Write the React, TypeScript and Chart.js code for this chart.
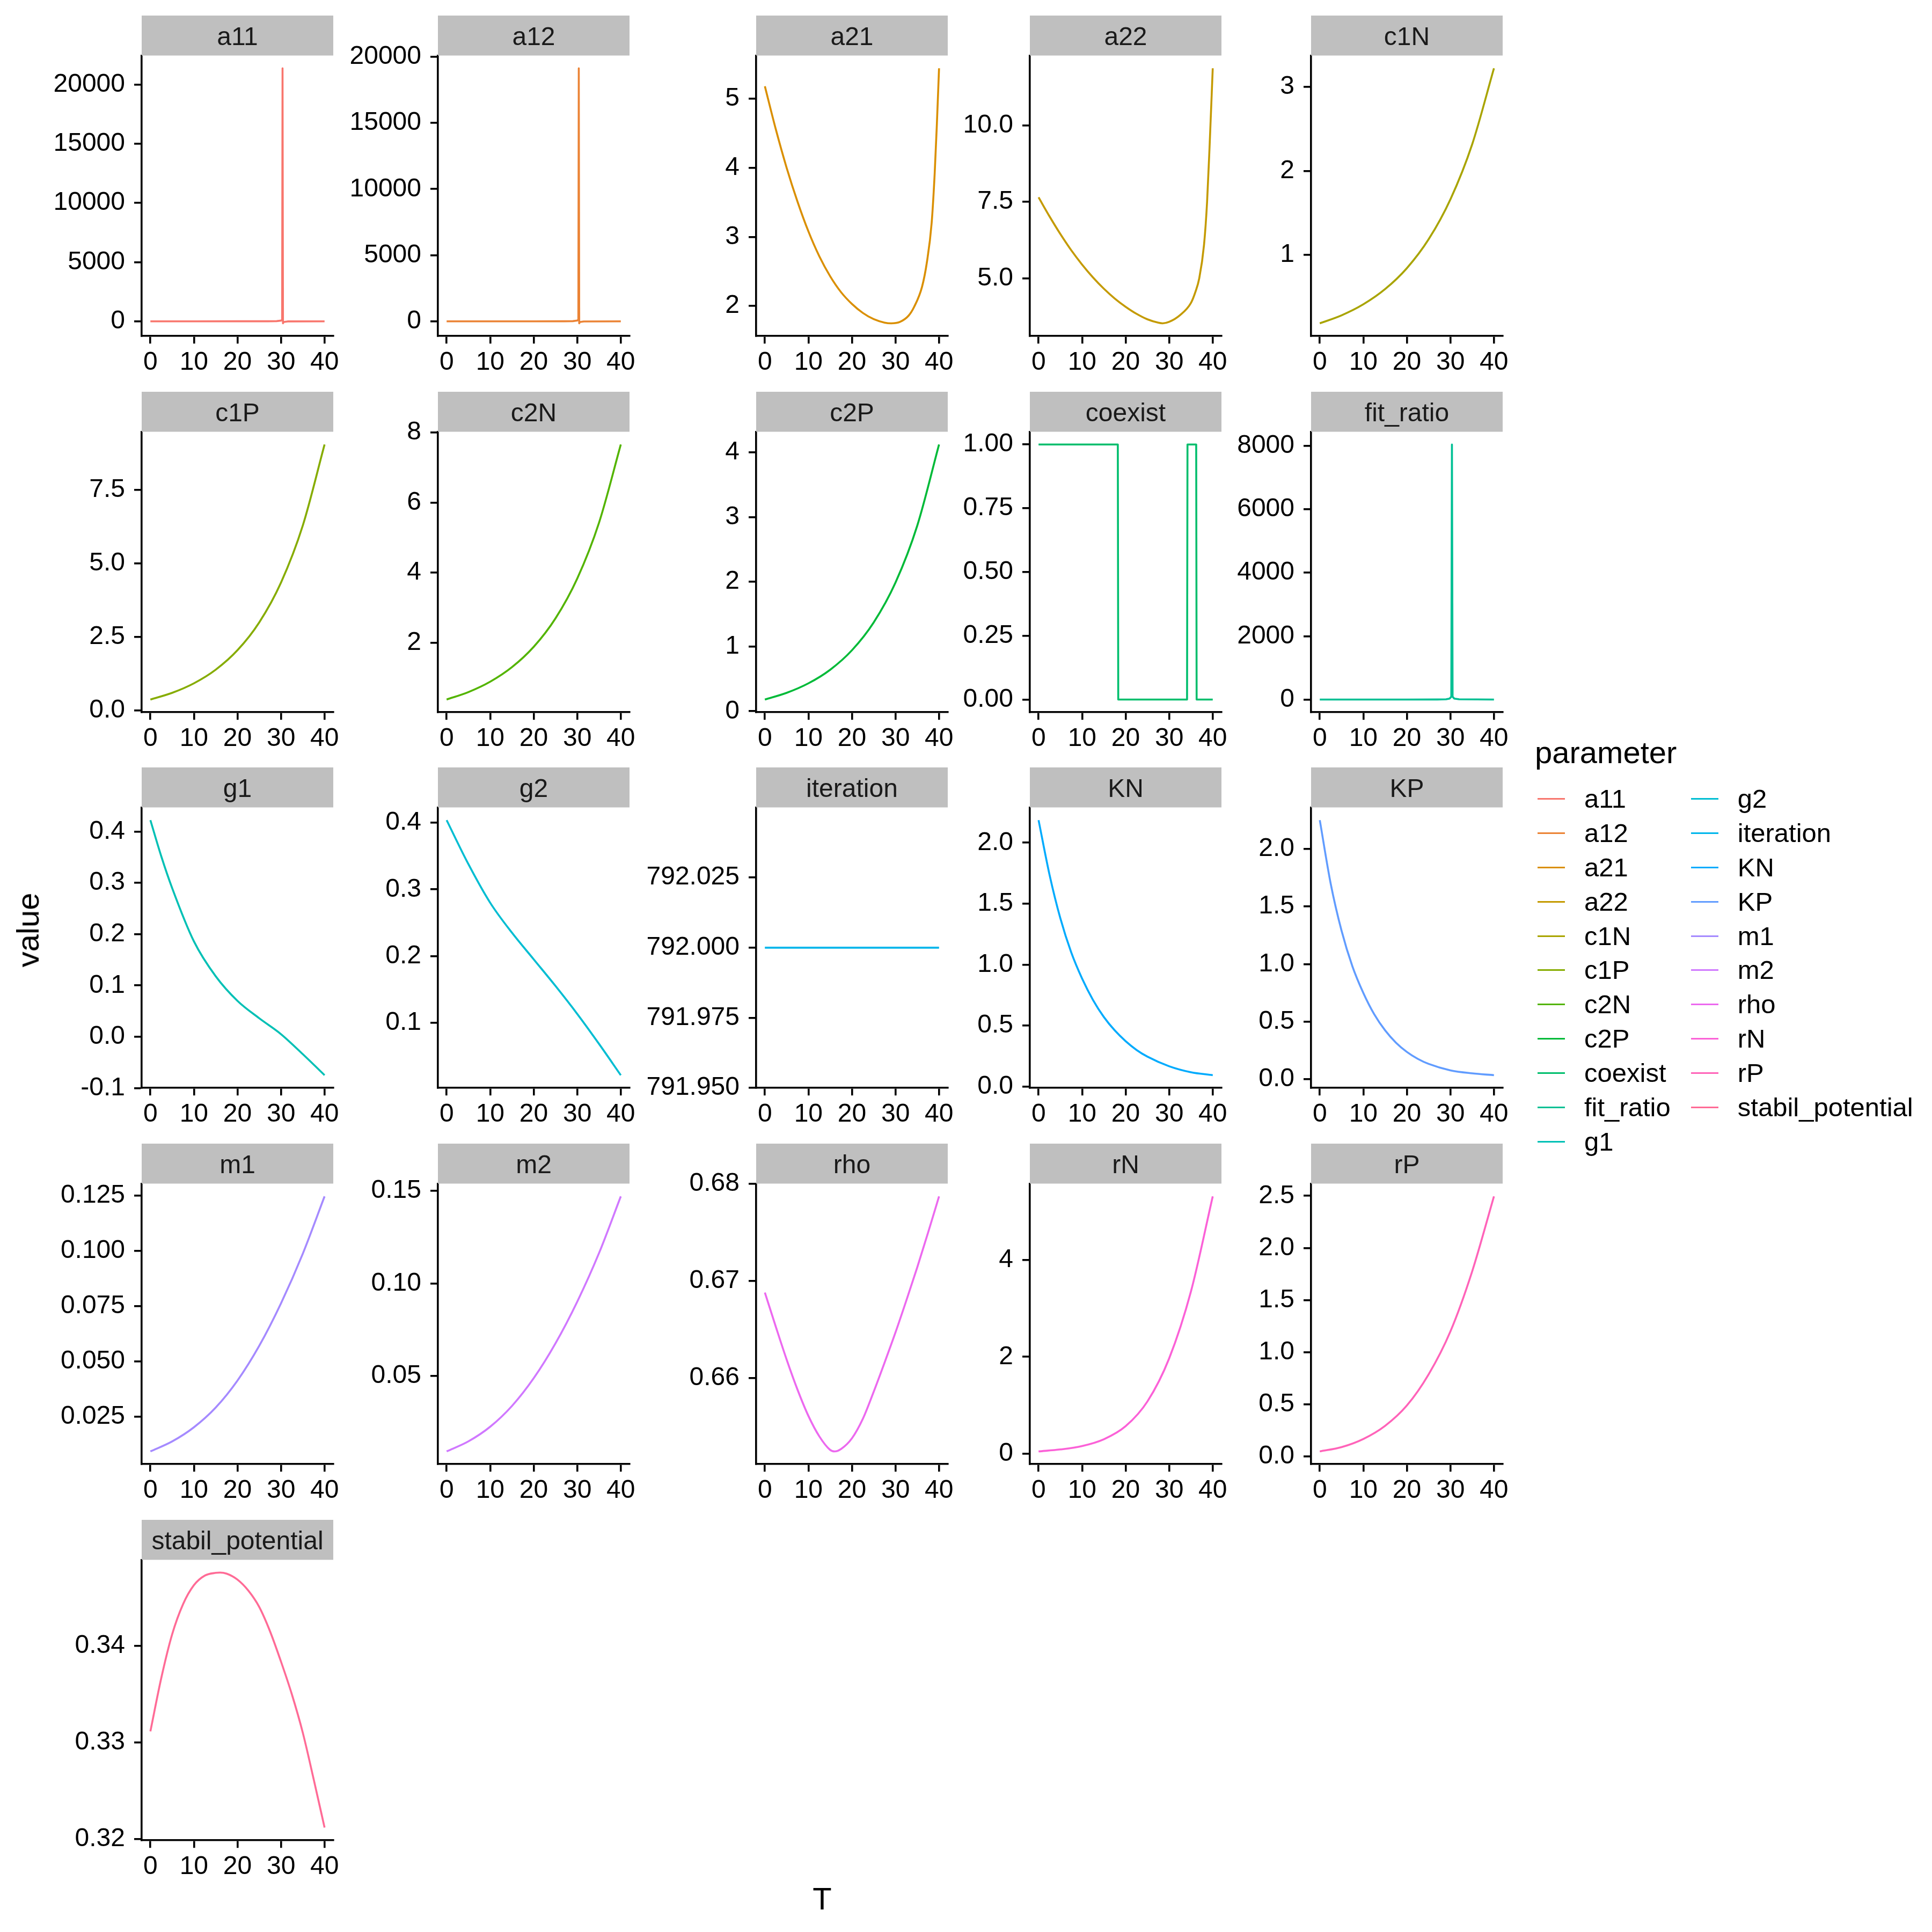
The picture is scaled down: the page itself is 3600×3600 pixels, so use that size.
import React, { useEffect, useRef } from "react";
import { Chart, registerables } from "chart.js";
Chart.register(...registerables);

// ---------------- data ----------------
const PARAMS = ["a11", "a12", "a21", "a22", "c1N", "c1P", "c2N", "c2P", "coexist", "fit_ratio", "g1", "g2", "iteration", "KN", "KP", "m1", "m2", "rho", "rN", "rP", "stabil_potential"];

const X_TICKS = [0, 10, 20, 30, 40];
const T9 = [0, 5, 10, 15, 20, 25, 30, 35, 40];

const a11T = [0, 10, 20, 27, 29, 30, 30.25, 30.35, 30.45, 30.6, 31.5, 40];
const a11V = [0, 0, 1, 3, 15, 60, 120, 21380, -170, -60, -10, 0];
const a11Ticks = [0, 5000, 10000, 15000, 20000];

const a12T = [0, 10, 20, 27, 29, 30, 30.25, 30.35, 30.45, 30.6, 31.5, 40];
const a12V = [0, 0, 1, 3, 15, 60, 120, 19130, -150, -50, -10, 0];
const a12Ticks = [0, 5000, 10000, 15000, 20000];

const a21T = [0, 2.5, 5, 7.5, 10, 12.5, 15, 17.5, 20, 22.5, 25, 27.5, 29, 31, 33, 34.3, 36.1, 37.2, 38.3, 39, 39.5, 40];
const a21V = [5.18, 4.56, 4.0, 3.51, 3.08, 2.72, 2.43, 2.2, 2.03, 1.9, 1.81, 1.76, 1.75, 1.77, 1.86, 1.99, 2.28, 2.63, 3.2, 3.92, 4.63, 5.44];
const a21Ticks = [2, 3, 4, 5];

const a22T = [0, 2.5, 5, 7.5, 10, 12.5, 15, 17.5, 20, 22.5, 25, 27.5, 28.5, 30, 32.5, 35, 36, 36.9, 38, 38.7, 39.3, 40];
const a22V = [7.65, 7.03, 6.45, 5.92, 5.45, 5.03, 4.66, 4.34, 4.07, 3.84, 3.66, 3.55, 3.53, 3.58, 3.8, 4.2, 4.55, 5.0, 6.1, 7.5, 9.4, 11.87];
const a22Ticks = [5, 7.5, 10];

const c1NV = [0.186, 0.281, 0.412, 0.593, 0.842, 1.186, 1.661, 2.316, 3.22];
const c1NTicks = [1, 2, 3];

const c1PV = [0.367, 0.594, 0.918, 1.381, 2.044, 2.991, 4.346, 6.284, 9.04];
const c1PTicks = [0, 2.5, 5, 7.5];

const c2NV = [0.38, 0.592, 0.888, 1.303, 1.884, 2.697, 3.835, 5.428, 7.66];
const c2NTicks = [2, 4, 6, 8];

const c2PV = [0.181, 0.284, 0.431, 0.641, 0.942, 1.372, 1.987, 2.867, 4.12];
const c2PTicks = [0, 1, 2, 3, 4];

const coexistT = [0, 18.2, 18.3, 34.1, 34.2, 36.2, 36.3, 40];
const coexistV = [1, 1, 0, 0, 1, 1, 0, 0];
const coexistTicks = [0, 0.25, 0.5, 0.75, 1];

const fitT = [0, 10, 20, 27, 29, 29.8, 30.2, 30.35, 30.5, 30.9, 32, 40];
const fitV = [1, 1, 1, 2, 8, 30, 90, 8045, 90, 30, 8, 1];
const fitTicks = [0, 2000, 4000, 6000, 8000];

const g1T = [0, 2.5, 5, 10, 15, 20, 25, 30, 35, 40];
const g1V = [0.4225, 0.352, 0.29, 0.186, 0.118, 0.07, 0.036, 0.005, -0.034, -0.075];
const g1Ticks = [-0.1, 0, 0.1, 0.2, 0.3, 0.4];

const g2V = [0.404, 0.338, 0.28, 0.235, 0.195, 0.155, 0.113, 0.068, 0.021];
const g2Ticks = [0.1, 0.2, 0.3, 0.4];

const iterT = [0, 40];
const iterV = [792, 792];
const iterTicks = [791.95, 791.975, 792, 792.025];
const iterLim: [number, number] = [791.95, 792.05];

const KT = [0, 2.5, 5, 7.5, 10, 12.5, 15, 17.5, 20, 22.5, 25, 30, 35, 40];
const KNV = [2.185, 1.74, 1.38, 1.1, 0.885, 0.71, 0.57, 0.46, 0.372, 0.3, 0.245, 0.166, 0.117, 0.093];
const KNTicks = [0, 0.5, 1, 1.5, 2];
const KPV = [2.25, 1.7, 1.29, 0.98, 0.75, 0.565, 0.425, 0.318, 0.238, 0.178, 0.134, 0.078, 0.052, 0.036];
const KPTicks = [0, 0.5, 1, 1.5, 2];

const m1V = [0.0094, 0.0139, 0.0203, 0.0292, 0.0414, 0.0571, 0.0763, 0.0987, 0.1246];
const m1Ticks = [0.025, 0.05, 0.075, 0.1, 0.125];
const m2V = [0.0094, 0.0148, 0.0227, 0.0339, 0.0489, 0.0677, 0.0902, 0.1164, 0.147];
const m2Ticks = [0.05, 0.1, 0.15];

const rhoT = [0, 2.5, 5, 7.5, 10, 12.5, 15, 16, 17.5, 20, 22.5, 25, 27.5, 30, 32.5, 35, 37.5, 40];
const rhoV = [0.6688, 0.6653, 0.6619, 0.6588, 0.6561, 0.654, 0.6526, 0.65245, 0.6527, 0.6538, 0.6558, 0.6586, 0.6616, 0.6647, 0.668, 0.6714, 0.675, 0.6787];
const rhoTicks = [0.66, 0.67, 0.68];

const rNV = [0.05, 0.09, 0.16, 0.3, 0.57, 1.08, 1.97, 3.35, 5.31];
const rNTicks = [0, 2, 4];
const rPV = [0.049, 0.09, 0.168, 0.294, 0.489, 0.788, 1.2, 1.776, 2.495];
const rPTicks = [0, 0.5, 1, 1.5, 2, 2.5];

const stabT = [0, 2.5, 5, 7.5, 10, 12.5, 15, 16, 17.5, 20, 22.5, 25, 27.5, 30, 32.5, 35, 37.5, 40];
const stabV = [0.33116, 0.33667, 0.34119, 0.3443, 0.34627, 0.34726, 0.34754, 0.34757, 0.34746, 0.34684, 0.3457, 0.34401, 0.34147, 0.33836, 0.33497, 0.33102, 0.32621, 0.32121];
const stabTicks = [0.32, 0.33, 0.34];

type Panel = { name: string; T: number[]; V: number[]; ticks: number[]; smooth: boolean; lim?: [number, number] };

const PANELS: Panel[] = [
  { name: "a11", T: a11T, V: a11V, ticks: a11Ticks, smooth: false },
  { name: "a12", T: a12T, V: a12V, ticks: a12Ticks, smooth: false },
  { name: "a21", T: a21T, V: a21V, ticks: a21Ticks, smooth: true },
  { name: "a22", T: a22T, V: a22V, ticks: a22Ticks, smooth: true },
  { name: "c1N", T: T9, V: c1NV, ticks: c1NTicks, smooth: true },
  { name: "c1P", T: T9, V: c1PV, ticks: c1PTicks, smooth: true },
  { name: "c2N", T: T9, V: c2NV, ticks: c2NTicks, smooth: true },
  { name: "c2P", T: T9, V: c2PV, ticks: c2PTicks, smooth: true },
  { name: "coexist", T: coexistT, V: coexistV, ticks: coexistTicks, smooth: false },
  { name: "fit_ratio", T: fitT, V: fitV, ticks: fitTicks, smooth: false },
  { name: "g1", T: g1T, V: g1V, ticks: g1Ticks, smooth: true },
  { name: "g2", T: T9, V: g2V, ticks: g2Ticks, smooth: true },
  { name: "iteration", T: iterT, V: iterV, ticks: iterTicks, smooth: false, lim: iterLim },
  { name: "KN", T: KT, V: KNV, ticks: KNTicks, smooth: true },
  { name: "KP", T: KT, V: KPV, ticks: KPTicks, smooth: true },
  { name: "m1", T: T9, V: m1V, ticks: m1Ticks, smooth: true },
  { name: "m2", T: T9, V: m2V, ticks: m2Ticks, smooth: true },
  { name: "rho", T: rhoT, V: rhoV, ticks: rhoTicks, smooth: true },
  { name: "rN", T: T9, V: rNV, ticks: rNTicks, smooth: true },
  { name: "rP", T: T9, V: rPV, ticks: rPTicks, smooth: true },
  { name: "stabil_potential", T: stabT, V: stabV, ticks: stabTicks, smooth: true },
];

// ---------------- style / layout ----------------
const FONT = '"Liberation Sans", Arial, Helvetica, sans-serif';
const COL_LEFT = [264, 816, 1409, 1919, 2443];
const ROW_TOP = [29, 730, 1430, 2131, 2832];
const STRIP_H = 74.5;
const PANEL_H = 522.7;
const YW = 240;
const RP = 40;
const CW = 637;
const CH = 688;
const XH = CH - STRIP_H - PANEL_H;
const LW = 3.6;
const AXW = 3.6;
const TICK_FS = 48;
const STRIP_FS = 48;

function hcl(h: number, c: number, l: number): string {
  const WX = 95.047, WY = 100.0, WZ = 108.883;
  const hr = (h * Math.PI) / 180;
  const U = c * Math.cos(hr);
  const V = c * Math.sin(hr);
  const Y = l > 7.999592 ? WY * Math.pow((l + 16) / 116, 3) : (WY * l) / 903.3;
  const den = WX + 15 * WY + 3 * WZ;
  const uN = (4 * WX) / den;
  const vN = (9 * WY) / den;
  const u = U / (13 * l) + uN;
  const v = V / (13 * l) + vN;
  const X = (Y * 9 * u) / (4 * v);
  const Z = (Y * (12 - 3 * u - 20 * v)) / (4 * v);
  const lin = [
    (3.240479 * X - 1.53715 * Y - 0.498535 * Z) / 100,
    (-0.969256 * X + 1.875992 * Y + 0.041556 * Z) / 100,
    (0.055648 * X - 0.204043 * Y + 1.057311 * Z) / 100,
  ];
  const gam = (x: number) => (x > 0.0031308 ? 1.055 * Math.pow(x, 1 / 2.4) - 0.055 : 12.92 * x);
  const hex = lin
    .map((x) => Math.round(Math.min(1, Math.max(0, gam(x))) * 255))
    .map((n) => n.toString(16).padStart(2, "0"))
    .join("");
  return "#" + hex;
}

const COLORS = PARAMS.map((_, i) => hcl(15 + (360 / PARAMS.length) * i, 100, 65));

function expand(vals: number[]): [number, number] {
  const mn = Math.min(...vals);
  const mx = Math.max(...vals);
  const r = mx - mn;
  return [mn - 0.05 * r, mx + 0.05 * r];
}

function decimals(arr: number[]): number {
  let d = 0;
  for (const v of arr) {
    const s = String(v).split(".")[1];
    if (s && s.length > d) d = s.length;
  }
  return d;
}

function PanelChart({ p, idx }: { p: Panel; idx: number }) {
  const ref = useRef<HTMLCanvasElement>(null);
  const col = idx % 5;
  const row = Math.floor(idx / 5);
  useEffect(() => {
    const canvas = ref.current;
    if (!canvas) return;
    const pts = p.T.map((t, i) => ({ x: t, y: p.V[i] }));
    const [ymin, ymax] = p.lim ?? expand(p.V);
    const dec = decimals(p.ticks);
    const stripPlugin = {
      id: "strip" + idx,
      afterDraw(chart: any) {
        const ca = chart.chartArea;
        const ctx = chart.ctx;
        ctx.save();
        ctx.fillStyle = "#BFBFBF";
        ctx.fillRect(ca.left, ca.top - STRIP_H, ca.right - ca.left, STRIP_H);
        ctx.fillStyle = "#1A1A1A";
        ctx.font = `${STRIP_FS}px ${FONT}`;
        ctx.textAlign = "center";
        ctx.textBaseline = "alphabetic";
        ctx.fillText(p.name, (ca.left + ca.right) / 2, ca.top - STRIP_H / 2 + 0.37 * STRIP_FS);
        ctx.restore();
      },
    };
    const axisGrid = { display: true, drawOnChartArea: false, drawTicks: true, tickLength: 14, lineWidth: AXW, tickWidth: AXW, color: "#000", tickColor: "#000" };
    const chart = new Chart(canvas, {
      type: "line",
      data: {
        datasets: [
          {
            data: pts,
            borderColor: COLORS[idx],
            borderWidth: LW,
            pointRadius: 0,
            fill: false,
            tension: 0,
            cubicInterpolationMode: p.smooth ? "monotone" : "default",
            borderJoinStyle: "round",
            borderCapStyle: "butt",
          } as any,
        ],
      },
      options: {
        animation: false,
        responsive: false,
        devicePixelRatio: 1,
        events: [],
        layout: { padding: { top: STRIP_H, right: RP, left: 0, bottom: 0 } },
        plugins: { legend: { display: false }, tooltip: { enabled: false }, title: { display: false } },
        scales: {
          x: {
            type: "linear",
            min: -2,
            max: 42,
            afterBuildTicks: (s: any) => {
              s.ticks = X_TICKS.map((v) => ({ value: v }));
            },
            afterFit: (s: any) => {
              s.height = XH;
            },
            grid: axisGrid,
            border: { display: true, color: "#000", width: AXW },
            ticks: { color: "#000", font: { family: FONT, size: TICK_FS }, padding: 7, autoSkip: false, maxRotation: 0, callback: (v: any) => String(v) },
          },
          y: {
            type: "linear",
            min: ymin,
            max: ymax,
            afterBuildTicks: (s: any) => {
              s.ticks = p.ticks.map((v) => ({ value: v }));
            },
            afterFit: (s: any) => {
              s.width = YW;
            },
            grid: axisGrid,
            border: { display: true, color: "#000", width: AXW },
            ticks: { color: "#000", font: { family: FONT, size: TICK_FS }, padding: 17, autoSkip: false, callback: (v: any) => Number(v).toFixed(dec) },
          },
        },
      } as any,
      plugins: [stripPlugin],
    });
    return () => chart.destroy();
  }, []);
  return (
    <canvas
      ref={ref}
      width={CW}
      height={CH}
      style={{ position: "absolute", left: COL_LEFT[col] - YW, top: ROW_TOP[row], width: CW, height: CH }}
    />
  );
}

export default function App() {
  const LEG_FS = 49;
  const TITLE_FS = 58;
  return (
    <div style={{ position: "absolute", left: 0, top: 0, width: 3600, height: 3600, background: "#fff", fontFamily: FONT, color: "#000", overflow: "hidden" }}>
      {PANELS.map((p, i) => (
        <PanelChart key={p.name} p={p} idx={i} />
      ))}
      <div
        style={{ position: "absolute", left: 52, top: 1733, transform: "translate(-50%, -50%) rotate(-90deg)", fontSize: TITLE_FS, lineHeight: `${TITLE_FS}px`, whiteSpace: "nowrap" }}
      >
        value
      </div>
      <div
        style={{ position: "absolute", left: 1532, top: 3538, transform: "translate(-50%, -50%)", fontSize: TITLE_FS, lineHeight: `${TITLE_FS}px`, whiteSpace: "nowrap" }}
      >
        T
      </div>
      <div style={{ position: "absolute", left: 2860, top: 1422 - 0.8465 * TITLE_FS, fontSize: TITLE_FS, lineHeight: `${TITLE_FS}px`, whiteSpace: "nowrap" }}>parameter</div>
      {PARAMS.map((name, i) => {
        const c = i < 11 ? 0 : 1;
        const r = i < 11 ? i : i - 11;
        const y = 1488.7 + r * 63.85;
        const kx = c ? 3151 : 2865;
        const lx = c ? 3237.8 : 2952;
        return (
          <React.Fragment key={name}>
            <div style={{ position: "absolute", left: kx, top: y - 1.5, width: 51, height: 3, background: COLORS[i] }} />
            <div style={{ position: "absolute", left: lx, top: y - LEG_FS / 2, fontSize: LEG_FS, lineHeight: `${LEG_FS}px`, whiteSpace: "nowrap" }}>{name}</div>
          </React.Fragment>
        );
      })}
    </div>
  );
}
